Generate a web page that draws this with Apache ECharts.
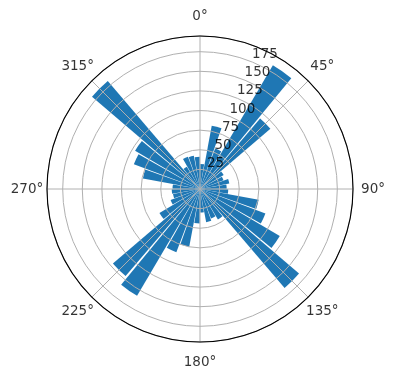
<!DOCTYPE html>
<html>
<head>
<meta charset="utf-8">
<script src="https://cdn.jsdelivr.net/npm/echarts@6/dist/echarts.min.js"></script>
<style>
html,body{margin:0;padding:0;background:#fff;}
#chart{width:396px;height:380px;}
</style>
</head>
<body>
<div id="chart"></div>
<script>
// Bin centres (degrees, clockwise from north)
const binCenters = [5,15,25,35,45,55,65,75,85,95,105,115,125,135,145,155,165,175,
                    185,195,205,215,225,235,245,255,265,275,285,295,305,315,325,335,345,355];
// Bar lengths
const counts = [32,82,55,183,118,35,32,38,34,36,76,89,118,166,45,40,43,30,
                44,75,86,158,146,60,40,35,36,35,74,90,96,181,33,44,43,41];
// Radial tick labels
const radialTicks = [25,50,75,100,125,150,175];
// Angular tick labels
const angleTicks = [0,45,90,135,180,225,270,315];
const angleTickLabels = ['0°','45°','90°','135°','180°','225°','270°','315°'];

const RMAX = 195;
const CENTER = [200,189];
const RADIUS = 153;
const FONT = 'DejaVu Sans';
const labelR = RMAX * (173 / RADIUS);
const rlabelAngle = 22.5;

const chart = echarts.init(document.getElementById('chart'), null, {renderer:'canvas'});
chart.setOption({
  animation:false,
  backgroundColor:'#ffffff',
  polar:[
    {center:CENTER, radius:RADIUS},
    {center:CENTER, radius:RADIUS}
  ],
  angleAxis:[
    {polarIndex:0, type:'category', data:binCenters.map(String), startAngle:90, clockwise:true,
     boundaryGap:true, axisLine:{show:false}, axisTick:{show:false}, axisLabel:{show:false}, splitLine:{show:false}},
    {polarIndex:1, type:'value', min:0, max:360, interval:45, startAngle:90, clockwise:true, z:3,
     axisLine:{show:true, lineStyle:{color:'#000', width:1.1}}, axisTick:{show:false}, axisLabel:{show:false},
     splitLine:{show:true, lineStyle:{color:'#b0b0b0', width:1}}}
  ],
  radiusAxis:[
    {polarIndex:0, type:'value', min:0, max:RMAX, axisLine:{show:false}, axisTick:{show:false},
     axisLabel:{show:false}, splitLine:{show:false}},
    {polarIndex:1, type:'value', min:0, max:RMAX, interval:25, z:3,
     axisLine:{show:false}, axisTick:{show:false}, axisLabel:{show:false},
     splitLine:{show:true, lineStyle:{color:'#b0b0b0', width:1}}}
  ],
  series:[
    {type:'bar', coordinateSystem:'polar', polarIndex:0, data:counts, barCategoryGap:'10%',
     itemStyle:{color:'#1f77b4'}, z:2},
    {type:'scatter', coordinateSystem:'polar', polarIndex:1, clip:false, z:5, silent:true,
     symbolSize:1, itemStyle:{color:'rgba(0,0,0,0)'},
     data:angleTicks.map((a,i)=>({value:[labelR, a], name:angleTickLabels[i]})),
     label:{show:true, position:'inside', formatter:p=>p.name, color:'#000', fontFamily:FONT, fontSize:13.5,
            align:'center', verticalAlign:'middle'}},
    {type:'scatter', coordinateSystem:'polar', polarIndex:1, clip:false, z:5, silent:true,
     symbolSize:1, itemStyle:{color:'rgba(0,0,0,0)'},
     data:radialTicks.map(v=>({value:[v, rlabelAngle], name:String(v)})),
     label:{show:true, position:[0,0], formatter:p=>p.name, color:'#000', fontFamily:FONT, fontSize:13.5,
            align:'left', verticalAlign:'bottom'}}
  ]
});
</script>
</body>
</html>
